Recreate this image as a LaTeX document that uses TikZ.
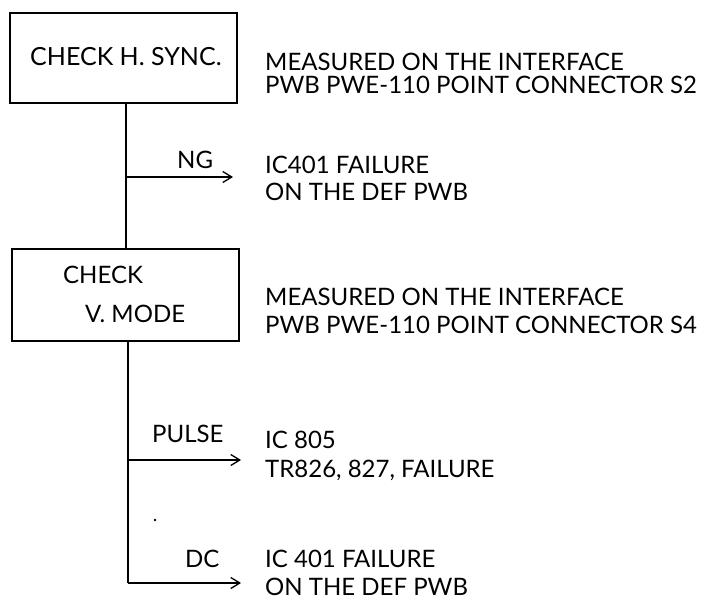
\documentclass[tikz,border=0pt]{standalone}
\usepackage{fontspec}
\setmainfont{Lato}
\usetikzlibrary{arrows.meta}
\begin{document}
\begin{tikzpicture}[x=1pt,y=-1pt,
  box/.style={draw,line width=1.3pt},
  txt/.style={anchor=base west,inner sep=0pt,text height=17pt,text depth=0pt,font=\fontsize{24}{28}\selectfont},
  lbl/.style={anchor=base west,inner sep=0pt,text height=17pt,text depth=0pt,font=\fontsize{24}{28}\selectfont},
  wire/.style={line width=1.3pt},
  arr/.style={line width=1.3pt,-{Straight Barb[length=9pt,width=11pt,line width=1.3pt]}}]
\useasboundingbox (0,0) rectangle (703,606);
% boxes
\draw[box] (10,13) rectangle (237,103);
\node[lbl,font=\fontsize{25}{28}\selectfont] (b1) at (30,65) {CHECK H. SYNC.};
\coordinate (b1s) at (126,103);
\draw[box] (12,249) rectangle (239,341);
\node[lbl] (b2a) at (63,283) {CHECK};
\node[lbl] (b2b) at (85,322) {V. MODE};
\coordinate (b2n) at (126,249);
\coordinate (b2s) at (128,341);
% branch points
\coordinate (j1) at (126,177);
\coordinate (e1) at (233,177);
\coordinate (j2) at (128,460);
\coordinate (e2) at (241,460);
\coordinate (j3) at (128,583);
\coordinate (e3) at (241,583);
\draw[wire] (b1s) -- (b2n);
\draw[arr] (j1) -- (e1);
\draw[wire] (b2s) -- (j3);
\draw[arr] (j2) -- (e2);
\draw[arr] (j3) -- (e3);
% labels
\node[lbl] (ng) at (177,168) {NG};
\node[lbl] (pulse) at (152,442) {PULSE};
\node[lbl] (dc) at (185,567) {DC};
\fill (155,520) circle (1.3pt);
% right texts
\node[txt] (m1a) at (265,70) {MEASURED ON THE INTERFACE};
\node[txt] (m1b) at (265,93) {PWB PWE-110 POINT CONNECTOR S2};
\node[txt] (f1a) at (265,173) {IC401 FAILURE};
\node[txt] (f1b) at (265,200) {ON THE DEF PWB};
\node[txt] (m2a) at (265,305) {MEASURED ON THE INTERFACE};
\node[txt] (m2b) at (265,333) {PWB PWE-110 POINT CONNECTOR S4};
\node[txt] (p1a) at (265,448) {IC 805};
\node[txt] (p1b) at (265,477) {TR826, 827, FAILURE};
\node[txt] (d1a) at (265,567) {IC 401 FAILURE};
\node[txt] (d1b) at (265,595) {ON THE DEF PWB};
\end{tikzpicture}
\end{document}
